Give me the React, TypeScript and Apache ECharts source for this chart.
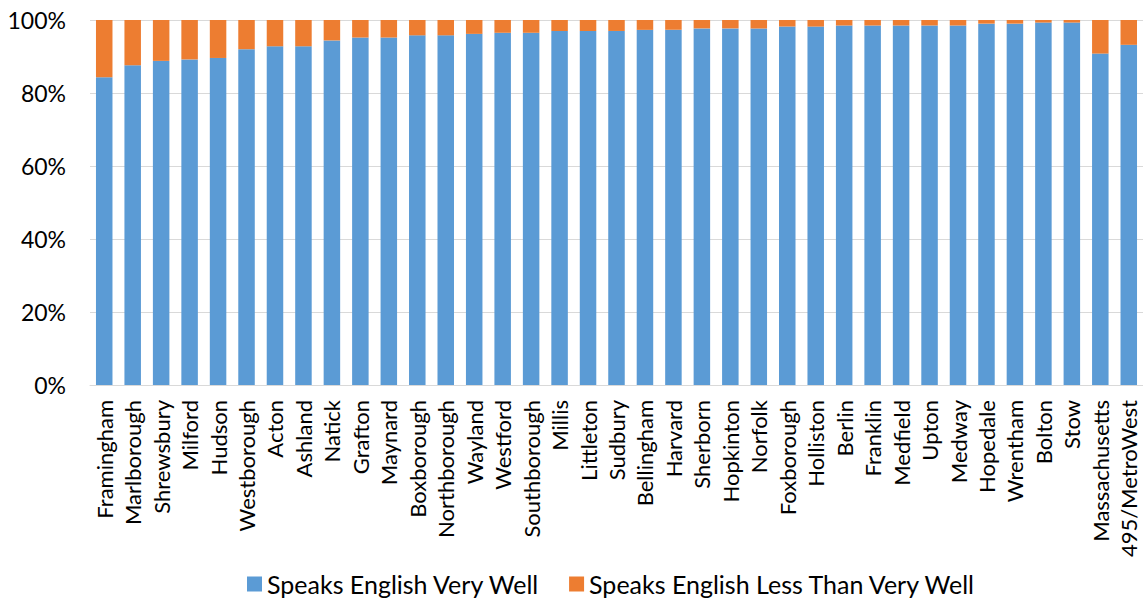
import React, { useEffect, useRef } from "react";
import * as echarts from "echarts";

const categories = [
  "Framingham", "Marlborough", "Shrewsbury", "Milford", "Hudson", "Westborough",
  "Acton", "Ashland", "Natick", "Grafton", "Maynard", "Boxborough", "Northborough",
  "Wayland", "Westford", "Southborough", "Millis", "Littleton", "Sudbury",
  "Bellingham", "Harvard", "Sherborn", "Hopkinton", "Norfolk", "Foxborough",
  "Holliston", "Berlin", "Franklin", "Medfield", "Upton", "Medway", "Hopedale",
  "Wrentham", "Bolton", "Stow", "Massachusetts", "495/MetroWest",
];

const veryWell = [
  84.3, 87.6, 88.8, 89.2, 89.6, 92.0, 92.8, 92.8, 94.4, 95.2, 95.2, 95.8, 95.8,
  96.2, 96.5, 96.5, 97.0, 97.0, 97.0, 97.3, 97.3, 97.7, 97.7, 97.7, 98.2, 98.2,
  98.5, 98.5, 98.5, 98.5, 98.5, 99.0, 99.0, 99.3, 99.3, 90.8, 93.2,
];

const lessThanVeryWell = [
  15.7, 12.4, 11.2, 10.8, 10.4, 8.0, 7.2, 7.2, 5.6, 4.8, 4.8, 4.2, 4.2,
  3.8, 3.5, 3.5, 3.0, 3.0, 3.0, 2.7, 2.7, 2.3, 2.3, 2.3, 1.8, 1.8,
  1.5, 1.5, 1.5, 1.5, 1.5, 1.0, 1.0, 0.7, 0.7, 9.2, 6.8,
];

const yTicks = { min: 0, max: 100, interval: 20 };

const FONT = "Lato";

export default function App() {
  const ref = useRef<HTMLDivElement>(null);
  useEffect(() => {
    document.body.style.margin = "0";
    if (!ref.current) return;
    const chart = echarts.init(ref.current, undefined, { renderer: "svg" });
    chart.setOption({
      animation: false,
      textStyle: { fontFamily: FONT },
      grid: { left: 90, right: -3, top: 20, bottom: 217, containLabel: false },
      legend: {
        top: 570,
        left: 247,
        padding: 0,
        icon: "rect",
        itemWidth: 15,
        itemHeight: 15,
        itemGap: 29,
        textStyle: { fontFamily: FONT, fontSize: 25, lineHeight: 28, color: "#000" },
        data: ["Speaks English Very Well", "Speaks English Less Than Very Well"],
      },
      xAxis: {
        type: "category",
        data: categories,
        axisLine: { lineStyle: { color: "#d9d9d9", width: 1 } },
        axisTick: { show: false },
        axisLabel: {
          interval: 0,
          rotate: 90,
          margin: 15,
          fontFamily: FONT,
          fontSize: 22,
          color: "#000",
        },
      },
      yAxis: {
        type: "value",
        min: yTicks.min,
        max: yTicks.max,
        interval: yTicks.interval,
        axisLine: { show: false },
        axisTick: { show: false },
        splitLine: { lineStyle: { color: "#d9d9d9", width: 1 } },
        axisLabel: {
          formatter: "{value}%",
          margin: 24,
          fontFamily: FONT,
          fontSize: 23,
          color: "#000",
        },
      },
      series: [
        {
          name: "Speaks English Very Well",
          type: "bar",
          stack: "total",
          data: veryWell,
          barCategoryGap: "42%",
          itemStyle: { color: "#5B9BD5" },
        },
        {
          name: "Speaks English Less Than Very Well",
          type: "bar",
          stack: "total",
          data: lessThanVeryWell,
          itemStyle: { color: "#ED7D31" },
        },
      ],
    });
    return () => chart.dispose();
  }, []);
  return <div ref={ref} style={{ width: 1143, height: 602 }} />;
}
